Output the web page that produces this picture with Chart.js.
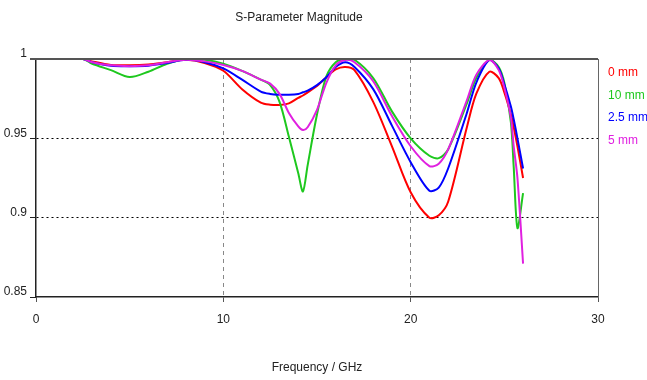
<!DOCTYPE html>
<html>
<head>
<meta charset="utf-8">
<script src="https://cdn.jsdelivr.net/npm/chart.js@4/dist/chart.umd.min.js"></script>
<style>
  body { margin: 0; background: #fff; }
</style>
</head>
<body>
<canvas id="myChart" width="647" height="380"></canvas>
<script>
// frequency grid (GHz) shared by all curves
const freq = [0, 2.5, 3, 4, 5, 6, 7, 8, 9, 10,
  11, 12, 12.5, 13, 13.5, 14, 14.25, 14.5, 15, 15.5,
  16, 16.5, 17, 18, 19, 20, 21, 21.5, 22, 23,
  23.5, 24.2, 24.7, 25, 25.35, 25.5, 25.7, 26];

const mag0mm = [1, 1, 0.9985, 0.9963, 0.996, 0.9965, 0.998, 0.9995, 0.9975, 0.9926,
  0.981, 0.9725, 0.9712, 0.971, 0.972, 0.9755, 0.977, 0.979, 0.983, 0.9885,
  0.9935, 0.995, 0.993, 0.973, 0.945, 0.916, 0.900, 0.9015, 0.910, 0.957,
  0.978, 0.992, 0.988, 0.979, 0.965, 0.957, 0.945, 0.925];

const mag10mm = [1, 1, 0.997, 0.993, 0.9886, 0.992, 0.997, 1.0, 0.9995, 0.997,
  0.9925, 0.987, 0.9836, 0.973, 0.951, 0.928, 0.9165, 0.933, 0.965, 0.989,
  0.998, 1.0, 0.9995, 0.988, 0.967, 0.950, 0.939, 0.9375, 0.943, 0.972,
  0.988, 0.9994, 0.995, 0.985, 0.960, 0.932, 0.8934, 0.9155];

const mag25mm = [1, 1, 0.998, 0.9958, 0.9955, 0.9958, 0.9975, 0.9995, 0.998, 0.9941,
  0.987, 0.9795, 0.978, 0.9775, 0.9775, 0.978, 0.979, 0.980, 0.9835, 0.9885,
  0.995, 0.998, 0.995, 0.981, 0.958, 0.935, 0.917, 0.919, 0.931, 0.966,
  0.985, 0.9994, 0.994, 0.984, 0.970, 0.962, 0.950, 0.931];

const mag5mm = [1, 1, 0.998, 0.996, 0.9955, 0.996, 0.998, 0.9995, 0.9985, 0.9962,
  0.9925, 0.987, 0.9845, 0.978, 0.966, 0.9575, 0.9552, 0.957, 0.968, 0.985,
  0.996, 0.9994, 0.998, 0.986, 0.964, 0.945, 0.9325, 0.934, 0.943, 0.974,
  0.990, 0.9994, 0.993, 0.982, 0.963, 0.945, 0.925, 0.871];

const seriesNames = ['0 mm', '10 mm', '2.5 mm', '5 mm'];
const seriesData = [mag0mm, mag10mm, mag25mm, mag5mm];
const seriesColors = ['#ff0000', '#1ec81e', '#0000ff', '#e020e0'];

const FONT = "'Liberation Sans', Arial, sans-serif";

function toPoints(arr) {
  return freq.map((f, i) => ({ x: f, y: arr[i] }));
}

// frame on top/right + coloured legend text on the right
const framePlugin = {
  id: 'frame',
  afterDraw(chart) {
    const a = chart.chartArea;
    const c = chart.ctx;
    c.save();
    c.strokeStyle = '#555';
    c.lineWidth = 2;
    c.beginPath();
    c.moveTo(a.left - 6, a.top);
    c.lineTo(a.right, a.top);
    c.stroke();
    c.strokeStyle = '#666';
    c.lineWidth = 1;
    c.beginPath();
    c.moveTo(a.right + 0.5, a.top);
    c.lineTo(a.right + 0.5, a.bottom);
    c.stroke();
    c.font = '12px ' + FONT;
    c.textBaseline = 'middle';
    c.textAlign = 'left';
    seriesNames.forEach((n, i) => {
      c.fillStyle = seriesColors[i];
      c.fillText(n, a.right + 10, a.top + 14 + i * 22.5);
    });
    c.restore();
  }
};

const ctx = document.getElementById('myChart');
const chart = new Chart(ctx, {
  type: 'line',
  data: {
    datasets: seriesNames.map((n, i) => ({
      label: n,
      data: toPoints(seriesData[i]),
      borderColor: seriesColors[i],
      borderWidth: 2,
      pointRadius: 0,
      tension: 0.3,
      order: 3 - i
    }))
  },
  options: {
    responsive: false,
    animation: false,
    layout: { padding: { right: 49 } },
    plugins: {
      legend: { display: false },
      tooltip: { enabled: false },
      title: {
        display: true,
        text: 'S-Parameter Magnitude',
        color: '#222',
        font: { family: FONT, size: 12, weight: 'normal' },
        padding: { top: 10, bottom: 34.6 }
      }
    },
    scales: {
      x: {
        type: 'linear',
        min: 0,
        max: 30,
        ticks: { stepSize: 10, color: '#222', font: { family: FONT, size: 12 }, padding: 10 },
        grid: {
          color: (c) => (c.tick && (c.tick.value === 0 || c.tick.value === 30)) ? 'rgba(0,0,0,0)' : '#888',
          tickColor: '#555',
          tickLength: 5
        },
        border: { color: '#222', width: 1.5, dash: [4, 4] },
        title: {
          display: true,
          text: 'Frequency / GHz',
          color: '#222',
          font: { family: FONT, size: 12 },
          padding: { top: 0, bottom: 5 }
        },
        afterFit(scale) { scale.height = 83; }
      },
      y: {
        min: 0.85,
        max: 1,
        ticks: {
          stepSize: 0.05,
          color: '#222',
          font: { family: FONT, size: 12 },
          labelOffset: -5,
          padding: 3,
          callback: (v) => String(+v.toFixed(2))
        },
        grid: {
          color: (c) => (c.tick && (c.tick.value === 0.85 || c.tick.value === 1)) ? 'rgba(0,0,0,0)' : '#000',
          tickColor: '#222',
          tickLength: 6
        },
        border: { color: '#222', width: 1.5, dash: [2, 3] },
        afterFit(scale) { scale.width = 36; }
      }
    }
  },
  plugins: [framePlugin]
});
</script>
</body>
</html>
